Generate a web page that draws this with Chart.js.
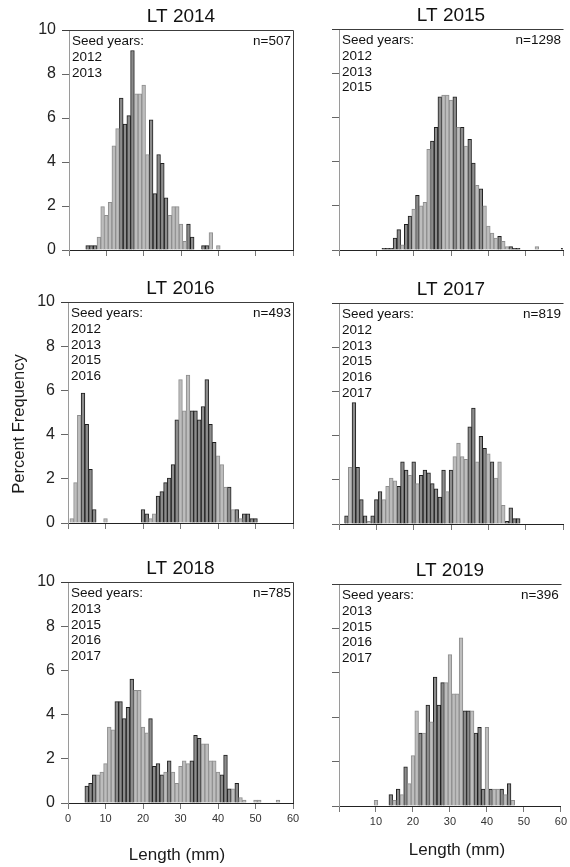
<!DOCTYPE html>
<html>
<head>
<meta charset="utf-8">
<title>LT length frequency 2014-2019</title>
<script src="https://cdn.jsdelivr.net/npm/chart.js@4.4.1/dist/chart.umd.min.js"></script>
<style>
  html, body { margin: 0; padding: 0; background: #fff; }
  #page { position: relative; width: 570px; height: 867px; overflow: hidden; background: #fff; }
  #page canvas { position: absolute; left: 0; top: 0; }
</style>
</head>
<body>
<div id="page">
  <canvas id="lt2014" width="570" height="867"></canvas>
  <canvas id="lt2015" width="570" height="867"></canvas>
  <canvas id="lt2016" width="570" height="867"></canvas>
  <canvas id="lt2017" width="570" height="867"></canvas>
  <canvas id="lt2018" width="570" height="867"></canvas>
  <canvas id="lt2019" width="570" height="867"></canvas>
</div>
<script>
// axis ticks
const lengthTicks = [0, 10, 20, 30, 40, 50, 60];
const freqTicks = [0, 2, 4, 6, 8, 10];

const panelTitles = ["LT 2014", "LT 2015", "LT 2016", "LT 2017", "LT 2018", "LT 2019"];
const sampleSizes = [507, 1298, 493, 819, 785, 396];
const seedYears = [
    [2012, 2013],
    [2012, 2013, 2015],
    [2012, 2013, 2015, 2016],
    [2012, 2013, 2015, 2016, 2017],
    [2013, 2015, 2016, 2017],
    [2013, 2015, 2016, 2017]
];

// first 1 mm length class (mm) of each values array
const firstClass = [5, 12, 1, 2, 5, 10];

// percent frequency per 1 mm class
const values2014 = [0.2, 0.2, 0.2, 0.59, 1.97, 1.58, 2.17, 4.73, 5.52, 6.9, 5.72, 6.11, 9.07, 7.1, 7.1, 7.5,
    4.34, 5.92, 2.56, 4.34, 3.94, 2.37, 1.58, 1.97, 1.97, 1.18, 0.39, 1.18, 0.59, 0, 0, 0.2, 0.2, 0.79, 0, 0.2];
const values2015 = [0.08, 0.08, 0.08, 0.54, 0.92, 0.23, 1.16, 1.54, 1.85, 2.47, 2.0, 2.16, 4.55, 4.93, 5.55,
    6.93, 7.01, 7.01, 6.78, 6.93, 5.55, 5.55, 4.7, 5.01, 3.93, 2.93, 2.77, 2.0, 1.08, 0.77, 0.54, 0.62, 0.39,
    0.15, 0.15, 0.08, 0.08, 0, 0, 0, 0, 0.15, 0, 0, 0, 0, 0, 0, 0.08];
const values2016 = [0.2, 1.83, 4.87, 5.88, 4.46, 2.43, 0.61, 0, 0, 0.2, 0, 0, 0, 0, 0, 0, 0, 0, 0,
    0.61, 0.41, 0.2, 0.41, 1.22, 1.42, 1.83, 2.03, 2.64, 4.67, 6.49, 5.07, 6.69, 5.07, 5.07, 4.67, 5.27,
    6.49, 4.46, 3.65, 3.04, 2.64, 1.62, 1.62, 0.61, 0.61, 0.2, 0.41, 0.41, 0.2, 0.2];
const values2017 = [0.37, 2.56, 5.49, 2.56, 1.1, 0.37, 0.12, 0.37, 1.1, 1.47, 1.1, 1.71, 2.08, 1.95, 1.71,
    2.81, 2.44, 2.2, 2.81, 1.83, 2.2, 2.44, 2.32, 1.83, 1.59, 1.22, 2.44, 1.47, 2.44, 3.05, 3.66, 3.05,
    2.93, 4.4, 5.25, 2.81, 3.97, 3.42, 3.17, 2.81, 2.08, 2.81, 0.85, 0.12, 0.73, 0.24, 0.24];
const values2018 = [0.76, 0.89, 1.27, 1.27, 1.4, 1.78, 3.44, 3.31, 4.59, 4.59, 3.82, 4.33, 5.61, 5.1, 5.1,
    3.44, 3.18, 3.82, 1.66, 1.78, 1.27, 1.4, 1.91, 1.4, 0.89, 1.66, 1.91, 1.78, 1.91, 3.06, 2.93, 2.68,
    2.68, 1.91, 1.91, 1.4, 1.27, 2.17, 0.64, 0.64, 0.89, 0.25, 0.13, 0, 0, 0.13, 0.13, 0, 0, 0, 0, 0.13];
const values2019 = [0.25, 0, 0, 0, 0.51, 0.25, 0.76, 0.51, 1.77, 1.01, 2.27, 4.29, 3.28, 3.28, 4.55, 3.79,
    5.81, 4.55, 5.56, 5.56, 6.82, 5.05, 5.05, 7.58, 4.29, 4.29, 4.29, 3.28, 3.54, 0.76, 3.54, 0.76, 0.76,
    0.76, 0.76, 0.51, 1.01, 0.25];

// length classes (mm) drawn in the light grey shade
const light2014 = [8, 9, 10, 11, 12, 13, 18, 19, 20, 21, 27, 28, 29, 30, 31, 38, 40];
const light2015 = [17, 20, 22, 23, 24, 28, 29, 30, 32, 34, 37, 39, 40, 41, 42, 44, 45, 53];
const light2016 = [1, 2, 3, 10, 22, 23, 30, 31, 32, 40, 41, 42, 44, 46];
const light2017 = [3, 8, 12, 13, 14, 15, 19, 21, 29, 31, 32, 33, 34, 37, 40, 42, 43, 44];
const light2018 = [8, 9, 10, 11, 12, 18, 19, 20, 21, 26, 28, 29, 30, 31, 32, 36, 37, 38, 39, 40, 44, 46, 47, 50, 51, 56];
const light2019 = [10, 15, 17, 19, 20, 21, 23, 25, 29, 30, 31, 32, 33, 36, 40, 42, 43, 45, 47];

const allValues = [values2014, values2015, values2016, values2017, values2018, values2019];
const allLight = [light2014, light2015, light2016, light2017, light2018, light2019];

const FONT = '"Liberation Sans", Arial, sans-serif';
const Y_W = 50;
const X_H = 30;

// plot areas on the page
const boxes = [
    { id: "lt2014", left: 69, top: 30, right: 293, bottom: 250, yLabels: true, xLabels: false, rightEdge: true },
    { id: "lt2015", left: 339, top: 29, right: 563, bottom: 250, yLabels: false, xLabels: false, rightEdge: false },
    { id: "lt2016", left: 68, top: 302, right: 293, bottom: 523, yLabels: true, xLabels: false, rightEdge: true,
      extra: [{ text: "Percent Frequency", x: 24, y: 424, size: 16.5, rotate: true }] },
    { id: "lt2017", left: 339, top: 303, right: 563, bottom: 524, yLabels: false, xLabels: false, rightEdge: false },
    { id: "lt2018", left: 68, top: 582, right: 293, bottom: 803, yLabels: true, xLabels: true, rightEdge: true,
      extra: [{ text: "Length (mm)", x: 177, y: 860, size: 17 }] },
    { id: "lt2019", left: 339, top: 584, right: 563, bottom: 806, yLabels: false, xLabels: true, rightEdge: false,
      extra: [{ text: "Length (mm)", x: 457, y: 855, size: 17 }] }
];

const panelDeco = {
    id: "panelDeco",
    afterDraw(chart, args, opts) {
        const ctx = chart.ctx;
        const a = chart.chartArea;
        ctx.save();
        ctx.strokeStyle = "#3c3c3c";
        ctx.lineWidth = 1;
        ctx.beginPath();
        ctx.moveTo(a.left - 7, Math.round(a.top) + 0.5);
        ctx.lineTo(Math.round(a.right) + 0.5, Math.round(a.top) + 0.5);
        if (opts.rightEdge) {
            ctx.lineTo(Math.round(a.right) + 0.5, a.bottom);
        }
        ctx.stroke();

        ctx.fillStyle = "#111";
        ctx.textBaseline = "alphabetic";
        ctx.textAlign = "center";
        ctx.font = "19px " + FONT;
        ctx.fillText(opts.title, (a.left + a.right) / 2, a.top - 8);

        ctx.font = "13.5px " + FONT;
        ctx.textAlign = "left";
        const lines = ["Seed years:"].concat(opts.years.map(String));
        lines.forEach((t, i) => ctx.fillText(t, a.left + 3, a.top + 15 + i * 15.8));
        ctx.textAlign = "right";
        ctx.fillText("n=" + opts.n, a.right - 2, a.top + 15);

        (opts.extra || []).forEach(e => {
            ctx.save();
            ctx.font = e.size + "px " + FONT;
            ctx.fillStyle = "#1a1a1a";
            ctx.textAlign = "center";
            ctx.translate(e.x, e.y);
            if (e.rotate) ctx.rotate(-Math.PI / 2);
            ctx.fillText(e.text, 0, 0);
            ctx.restore();
        });
        ctx.restore();
    }
};

function splitSeries(from, values, light) {
    const dark = [];
    const pale = [];
    values.forEach((v, i) => {
        const x = from + i;
        const y = v > 0 ? v : null;
        const isLight = light.includes(x);
        dark.push({ x: x, y: isLight ? null : y });
        pale.push({ x: x, y: isLight ? y : null });
    });
    return { dark, pale };
}

Chart.defaults.font.family = FONT;

boxes.forEach((b, k) => {
    const s = splitSeries(firstClass[k], allValues[k], allLight[k]);

    new Chart(document.getElementById(b.id), {
        type: "bar",
        data: {
            datasets: [
                { data: s.pale, backgroundColor: "#bdbdbd", borderColor: "#8e8e8e" },
                { data: s.dark, backgroundColor: "#8c8c8c", borderColor: "#1e1e1e" }
            ]
        },
        options: {
            responsive: false,
            maintainAspectRatio: false,
            devicePixelRatio: 1,
            animation: false,
            events: [],
            layout: {
                padding: {
                    left: b.left - Y_W,
                    top: b.top,
                    right: 570 - b.right,
                    bottom: 867 - b.bottom - X_H
                }
            },
            datasets: {
                bar: {
                    grouped: false,
                    barPercentage: 1,
                    categoryPercentage: 1,
                    borderWidth: 1,
                    borderSkipped: "start"
                }
            },
            scales: {
                x: {
                    type: "linear",
                    min: 0,
                    max: 60,
                    offset: false,
                    afterBuildTicks: sc => { sc.ticks = lengthTicks.map(v => ({ value: v })); },
                    afterFit: sc => { sc.height = X_H; },
                    ticks: {
                        display: b.xLabels,
                        autoSkip: false,
                        maxRotation: 0,
                        padding: 3,
                        color: "#333",
                        font: { size: 11 },
                        // the right-hand panels carry no "0" label
                        callback: v => (v === 0 && !b.yLabels) ? "" : String(v)
                    },
                    grid: { drawOnChartArea: false, drawTicks: true, tickLength: 6, color: "#777", offset: false },
                    border: { display: true, color: "#222", width: 1 }
                },
                y: {
                    min: 0,
                    max: 10,
                    afterBuildTicks: sc => { sc.ticks = freqTicks.map(v => ({ value: v })); },
                    afterFit: sc => { sc.width = Y_W; },
                    ticks: {
                        display: b.yLabels,
                        padding: 6,
                        color: "#222",
                        font: { size: 16 }
                    },
                    grid: { drawOnChartArea: false, drawTicks: true, tickLength: 7, color: "#666" },
                    border: { display: true, color: "#9a9a9a", width: 1 }
                }
            },
            plugins: {
                legend: { display: false },
                tooltip: { enabled: false },
                panelDeco: {
                    title: panelTitles[k],
                    n: sampleSizes[k],
                    years: seedYears[k],
                    rightEdge: b.rightEdge,
                    extra: b.extra
                }
            }
        },
        plugins: [panelDeco]
    });
});
</script>
</body>
</html>
